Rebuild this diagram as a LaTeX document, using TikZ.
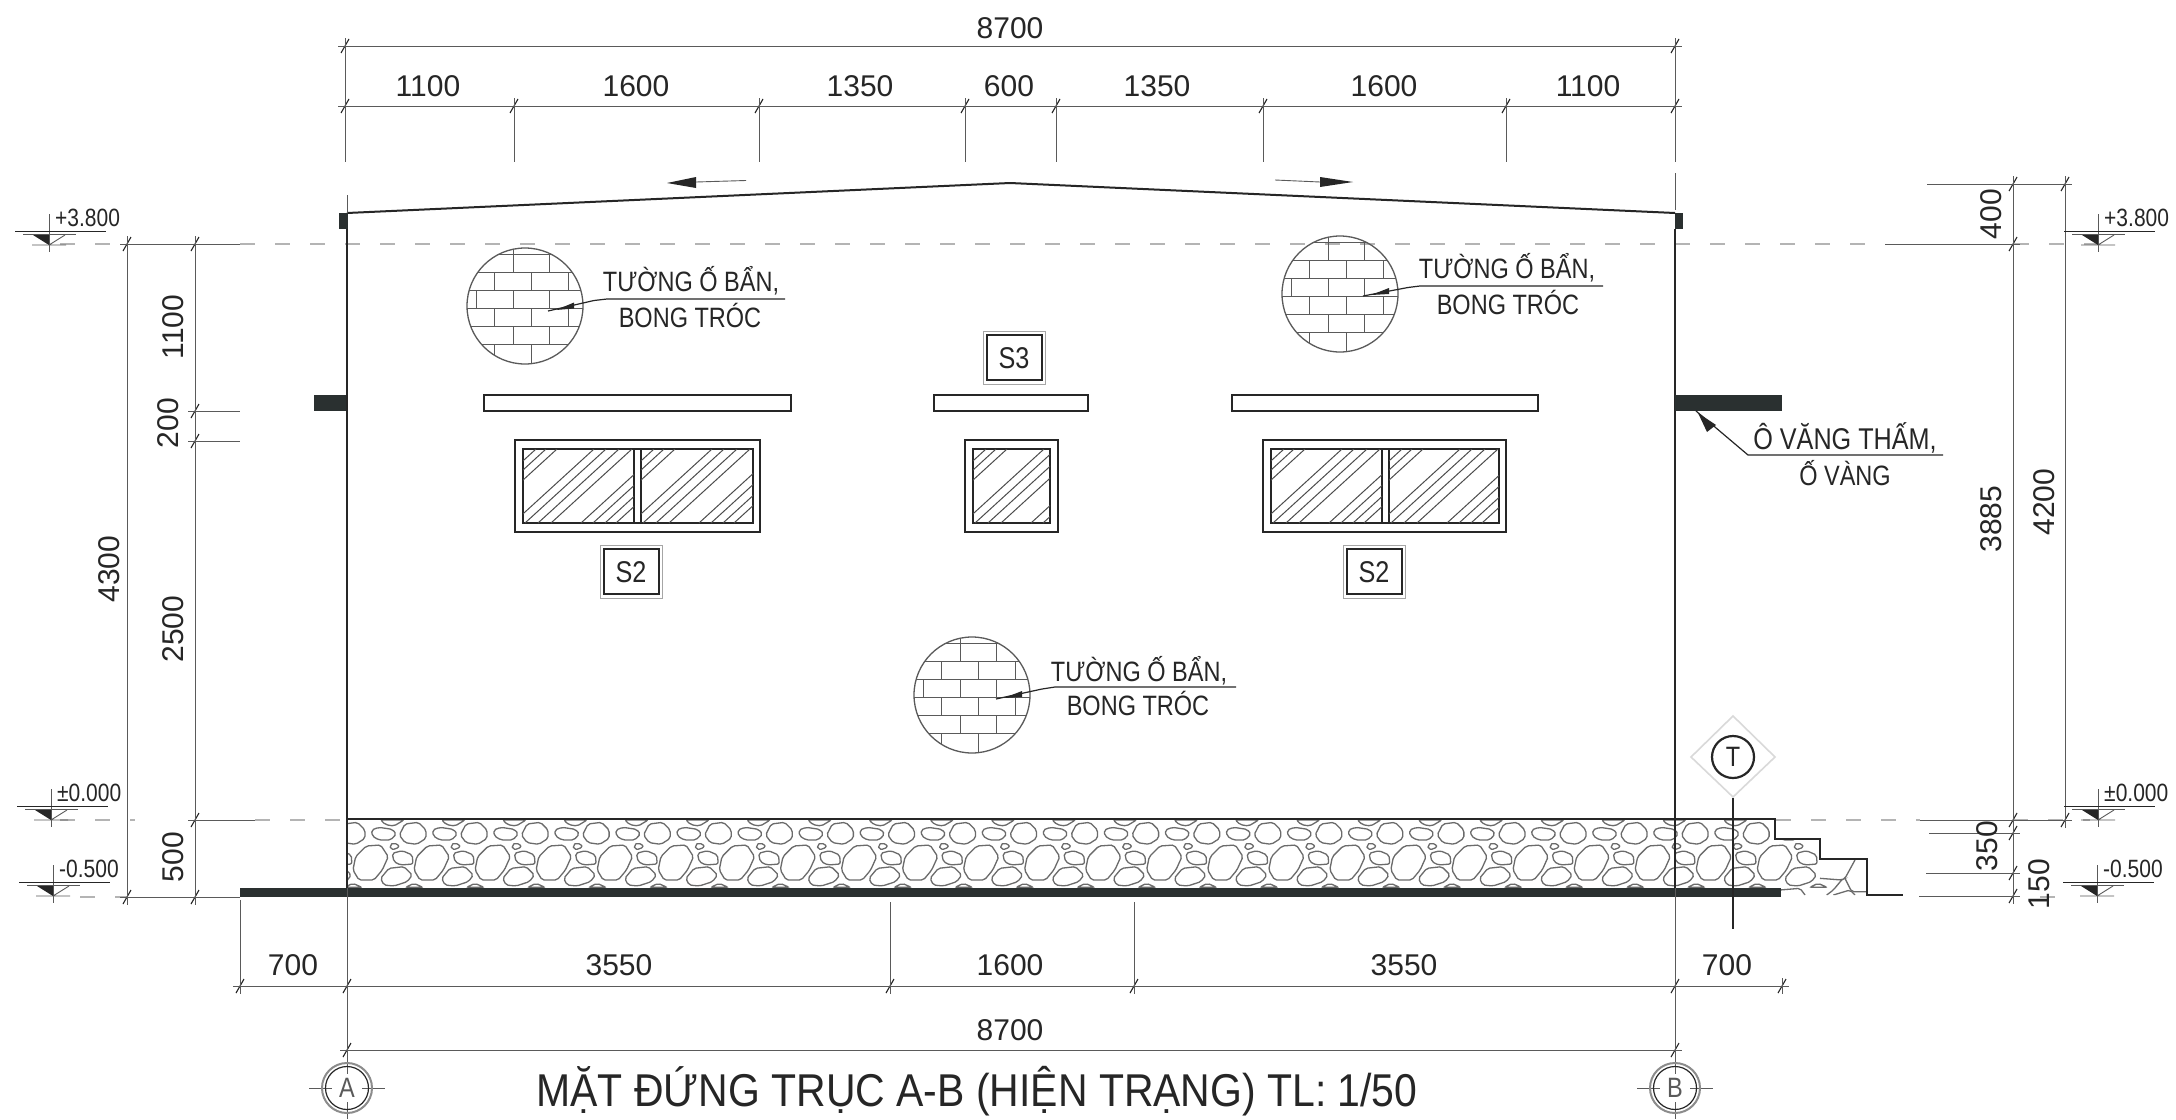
\documentclass[tikz,border=0pt]{standalone}
\usepackage{fontspec}
\setmainfont{Liberation Sans}
\newfontfamily\lblfont[FakeStretch=0.84]{Liberation Sans}
\newfontfamily\ttlfont[FakeStretch=0.89]{Liberation Sans}
\definecolor{ink}{HTML}{262626}
\definecolor{dimc}{HTML}{5A5A5A}
\definecolor{dashc}{HTML}{B4B4B4}
\definecolor{blk}{HTML}{2A3030}
\tikzset{
  dimtxt/.style={font=\fontsize{30}{30}\selectfont,text=ink,inner sep=0pt,anchor=center},
  dimtxtv/.style={dimtxt,rotate=90},
  lbl/.style={font=\lblfont\fontsize{28}{28}\selectfont,text=ink,inner sep=0pt,anchor=base},
  lvltxt/.style={font=\lblfont\fontsize{25}{25}\selectfont,text=ink,inner sep=0pt,anchor=base west},
  ttl/.style={font=\ttlfont\fontsize{46}{46}\selectfont,text=ink,inner sep=0pt,anchor=base},
  bub/.style={font=\lblfont\fontsize{28}{28}\selectfont,text=dimc,inner sep=0pt},
  stag/.style={font=\lblfont\fontsize{30}{30}\selectfont,text=ink,inner sep=0pt},
  dimln/.style={draw=dimc,line width=0.9pt},
  dashln/.style={draw=dashc,line width=1.1pt,dash pattern=on 15pt off 20pt},
  tickln/.style={draw=ink,line width=1.1pt},
  wallln/.style={draw=ink,line width=1.6pt},
  boxln/.style={draw=ink,line width=1.7pt},
  hatchln/.style={draw=black!70,line width=1pt},
  brickln/.style={draw=dimc,line width=0.9pt},
  stoneln/.style={draw=black!58,line width=1.3pt,rounded corners=2pt},
  leader/.style={draw=ink,line width=1.2pt}
}
\newcommand{\tk}[2]{\draw[tickln] (#1-4,#2+7) -- (#1+4,#2-7);\draw[dimln] (#1-7,#2) -- (#1+7,#2) (#1,#2-8) -- (#1,#2+8);}
\newcommand{\pane}[4]{\begin{scope}\clip (#1,#3) rectangle (#2,#4);
  \foreach \i in {-68,-58,-47,-10,2,15,28,58,70,82,93}{\draw[hatchln] (#1+\i,#4) -- (#1+\i+81,#3);}
  \end{scope}}
\newcommand{\brickc}[2]{\begin{scope}[shift={(#1,#2)}]
  \begin{scope}\clip (0,0) circle[radius=58];
   \foreach \h in {-52,-34,-16,2,20,38}{\draw[brickln] (-60,\h) -- (60,\h);}
   \foreach \v in {-12,24}{\draw[brickln] (\v,-58) -- (\v,-34) (\v,20) -- (\v,38);}
   \foreach \v in {-31,6,43}{\draw[brickln] (\v,-34) -- (\v,-16) (\v,2) -- (\v,20);}
   \foreach \v in {-49,-12,24}{\draw[brickln] (\v,-16) -- (\v,2);}
   \foreach \v in {-31,6}{\draw[brickln] (\v,38) -- (\v,58);}
  \end{scope}
  \draw[draw=dimc,line width=1.3pt] (0,0) circle[radius=58];
  \end{scope}}
\newcommand{\lvl}[3]{\draw[dimln] (#1,#2-31) -- (#1,#2+7);
  \draw[draw=ink,line width=1pt] (#1-34,#2-14) -- (#1+57,#2-14);
  \draw[dimln] (#1-26,#2-11) -- (#1+27,#2-11);
  \draw[dimln] (#1-17,#2) -- (#1+17,#2) (#1,#2) -- (#1+16,#2-10);
  \fill[ink] (#1-16,#2-10) -- (#1,#2) -- (#1,#2-10) -- cycle;
  \node[lvltxt] at (#1+6,#2-19) {#3};}
\newcommand{\stg}[3]{\draw[draw=black!35,line width=1pt] (#1-31,#2-27) rectangle (#1+31,#2+26);
  \draw[draw=ink,line width=2.1pt] (#1-27,#2-23) rectangle (#1+28,#2+22);
  \node[stag] at (#1,#2) {#3};}
\newcommand{\kite}[6]{\fill[ink] (#1,#2) -- (#3,#4) -- (#5,#6) -- cycle;}
\begin{document}
\begin{tikzpicture}[x=1pt,y=-1pt]
\useasboundingbox (0,0) rectangle (2176,1119);
\fill[white] (0,0) rectangle (2176,1119);

% ---- dashed level lines
\draw[dashln] (60,244) -- (125,244) (240,244) -- (1885,244) (2014,244) -- (2110,244);
\draw[dashln] (60,820) -- (135,820) (255,820) -- (347,820) (1776,820) -- (1920,820) (2013,820) -- (2090,820);
\draw[dashln] (80,897) -- (127,897) (2040,897) -- (2075,897);

% ---- stone footing
\begin{scope}
 \clip (347,819) -- (1775,819) -- (1775,839) -- (1820,839) -- (1820,859) -- (1867,859) -- (1867,895) -- (347,895) -- cycle;
 \foreach \k in {-2,...,22}{
  \begin{scope}[shift={(340+61.05*\k,810)},x=0.3333pt,y=-0.3333pt]
   \draw[stoneln] (195,42) -- (235,37) -- (258,60) -- (258,85) -- (230,103) -- (195,98) -- (178,75) -- cycle;
   \draw[stoneln] (278,60) -- (300,52) -- (340,58) -- (352,72) -- (335,90) -- (300,90) -- (280,78) -- cycle;
   \draw[stoneln] (230,140) -- (262,108) -- (305,105) -- (328,140) -- (310,180) -- (285,210) -- (240,210) -- (222,180) -- cycle;
   \draw[stoneln] (333,105) -- (345,98) -- (362,108) -- (350,118) -- (335,118) -- cycle;
   \draw[stoneln] (340,130) -- (370,122) -- (400,135) -- (402,162) -- (365,165) -- (345,155) -- cycle;
   \draw[stoneln] (305,205) -- (330,175) -- (375,170) -- (400,195) -- (385,215) -- (345,228) -- (315,225) -- cycle;
   \draw[stoneln] (305,30) -- (375,30) -- (345,48) -- (320,44) -- cycle;
   \draw[stoneln] (380,232) -- (405,220) -- (432,232) -- cycle;
  \end{scope}}
 \begin{scope}[shift={(1660,810)},x=0.3333pt,y=-0.3333pt]
   \draw[stoneln] (480,205) -- (545,210) -- (555,205) -- (585,150);
   \draw[stoneln] (555,205) -- (575,245) -- (620,245);
   \draw[stoneln] (545,210) -- (520,240) -- (500,255);
   \draw[stoneln] (360,240) -- (420,235) -- (435,255);
   \draw[stoneln] (520,255) -- (570,240) -- (585,255);
 \end{scope}
\end{scope}
\draw[wallln] (347,819) -- (1775,819) -- (1775,839) -- (1820,839) -- (1820,859) -- (1867,859) -- (1867,895) -- (1903,895);
\fill[blk] (240,888) rectangle (1781,897);

% ---- wall and roof
\draw[wallln] (347,229) -- (347,888);
\draw[wallln] (1675,229) -- (1675,888);
\draw[draw=ink,line width=2pt] (347,213) -- (1010,183) -- (1675,213);
\fill[blk] (339,213) rectangle (348,229);
\fill[blk] (1675,213) rectangle (1683,229);
\fill[blk] (314,395) rectangle (346,411);
\fill[blk] (1675,395) rectangle (1782,411);
\draw[dimln] (347,195) -- (347,213) (1675,173) -- (1675,210);
\draw[dimln] (347,888) -- (347,1062) (1675,888) -- (1675,1062);

% ---- slope arrows
\fill[ink] (667,183) -- (696,177) -- (696,188) -- cycle;
\draw[dimln] (696,182) -- (746,180.5);
\fill[ink] (1353,182) -- (1320,177) -- (1320,187) -- cycle;
\draw[dimln] (1320,182) -- (1275,180);

% ---- canopies
\draw[boxln] (484,395) rectangle (791,411);
\draw[boxln] (934,395) rectangle (1088,411);
\draw[boxln] (1232,395) rectangle (1538,411);

% ---- windows
\draw[boxln] (515,440) rectangle (760,532);
\draw[draw=ink,line width=2.1pt] (523,449) rectangle (753,523);
\draw[boxln] (634,449) -- (634,523) (641,449) -- (641,523);
\pane{523}{634}{449}{523}\pane{641}{753}{449}{523}
\draw[boxln] (965,440) rectangle (1058,532);
\draw[draw=ink,line width=2.1pt] (973,449) rectangle (1050,523);
\pane{973}{1050}{449}{523}
\draw[boxln] (1263,440) rectangle (1506,532);
\draw[draw=ink,line width=2.1pt] (1271,449) rectangle (1499,523);
\draw[boxln] (1382,449) -- (1382,523) (1389,449) -- (1389,523);
\pane{1271}{1382}{449}{523}\pane{1389}{1499}{449}{523}

% ---- tags
\stg{631}{572}{S2}
\stg{1374}{572}{S2}
\stg{1014}{358}{S3}

% ---- brick patches and leaders
\brickc{525}{306}
\brickc{1340}{294}
\brickc{972}{695}
\draw[leader] (548,311) -- (594,300.5) -- (607,299) -- (785,299);
\kite{556}{310}{574}{302.5}{574}{308.5}
\draw[leader] (1363,296) -- (1408,287.5) -- (1420,286) -- (1603,286);
\kite{1371}{295}{1389}{288}{1389}{294}
\draw[leader] (996,699) -- (1042,689) -- (1055,687) -- (1236,687);
\kite{1004}{698}{1022}{691}{1022}{697}
\draw[leader] (1696,411) -- (1748,455) -- (1943,455);
\kite{1698}{413}{1716}{425}{1707}{432}

\node[lbl] (t1a) at (691,291) {TƯỜNG Ố BẨN,};
\node[lbl] (t1b) at (690,327) {BONG TRÓC};
\node[lbl] (t2a) at (1507,278) {TƯỜNG Ố BẨN,};
\node[lbl] (t2b) at (1508,314) {BONG TRÓC};
\node[lbl] (t3a) at (1139,681) {TƯỜNG Ố BẨN,};
\node[lbl] (t3b) at (1138,715) {BONG TRÓC};
\node[lbl,font=\lblfont\fontsize{30}{30}\selectfont] (t4a) at (1845,449) {Ô VĂNG THẤM,};
\node[lbl] (t4b) at (1845,485) {Ố VÀNG};

% ---- top dimensions
\draw[dimln] (345,46) -- (1675,46) (345,106) -- (1675,106);
\foreach \x in {345,1675}{\draw[dimln] (\x,38) -- (\x,162);\tk{\x}{46}\tk{\x}{106}}
\foreach \x in {514,759,965,1056,1263,1506}{\draw[dimln] (\x,98) -- (\x,162);\tk{\x}{106}}
\node[dimtxt] (a0) at (1010,28) {8700};
\node[dimtxt] (a1) at (428,86) {1100};
\node[dimtxt] (a2) at (636,86) {1600};
\node[dimtxt] (a3) at (860,86) {1350};
\node[dimtxt] (a4) at (1009,86) {600};
\node[dimtxt] (a5) at (1157,86) {1350};
\node[dimtxt] (a6) at (1384,86) {1600};
\node[dimtxt] (a7) at (1588,86) {1100};

% ---- left dimensions
\draw[dimln] (127,244) -- (127,905) (195,244) -- (195,905);
\draw[dimln] (125,244) -- (240,244) (190,411) -- (240,411) (190,441) -- (240,441) (127,897) -- (240,897) (190,820) -- (255,820);
\foreach \y in {244,897}{\tk{127}{\y}}
\foreach \y in {244,411,441,820,897}{\tk{195}{\y}}
\node[dimtxtv] (l0) at (109,569) {4300};
\node[dimtxtv] (l1) at (173,327) {1100};
\node[dimtxtv] (l2) at (168,423) {200};
\node[dimtxtv] (l3) at (173,629) {2500};
\node[dimtxtv] (l4) at (173,857) {500};

% ---- right dimensions
\draw[dimln] (2013,176) -- (2013,902) (2065,176) -- (2065,826);
\draw[dimln] (1927,184) -- (2066,184) (1885,244) -- (2013,244) (1920,820) -- (2065,820) (1929,833) -- (2013,833) (1926,873) -- (2013,873) (1919,896) -- (2013,896);
\foreach \y in {184,244,820,833,873,896}{\tk{2013}{\y}}
\foreach \y in {184,820}{\tk{2065}{\y}}
\node[dimtxtv] (r0) at (1991,214) {400};
\node[dimtxtv] (r1) at (1991,519) {3885};
\node[dimtxtv] (r2) at (2044,502) {4200};
\node[dimtxtv] (r3) at (1987,846) {350};
\node[dimtxtv] (r4) at (2039,884) {150};

% ---- bottom dimensions
\draw[dimln] (240,900) -- (240,992);
\draw[dimln] (890,902) -- (890,992) (1134,902) -- (1134,992);
\draw[dimln] (240,986) -- (1782,986) (347,1050) -- (1675,1050);
\foreach \x in {240,347,890,1134,1675,1782}{\tk{\x}{986}}
\foreach \x in {347,1675}{\tk{\x}{1050}}
\node[dimtxt] (b1) at (293,965) {700};
\node[dimtxt] (b2) at (619,965) {3550};
\node[dimtxt] (b3) at (1010,965) {1600};
\node[dimtxt] (b4) at (1404,965) {3550};
\node[dimtxt] (b5) at (1727,965) {700};
\node[dimtxt] (b6) at (1010,1030) {8700};

% ---- level marks
\lvl{49}{245}{+3.800}
\lvl{2098}{245}{+3.800}
\lvl{51}{820}{±0.000}
\lvl{2098}{820}{±0.000}
\lvl{53}{896}{-0.500}
\lvl{2097}{896}{-0.500}

% ---- section marker T
\draw[draw=black!15,line width=1.6pt] (1733,716) -- (1775,757) -- (1733,797) -- (1691,757) -- cycle;
\draw[draw=ink,line width=2.2pt] (1733,757) circle[radius=21];
\node[bub,text=ink] (tm) at (1733,757) {T};
\draw[draw=ink,line width=2.6pt] (1733,798) -- (1733,929);

% ---- grid bubbles
\foreach \cx/\nm/\lt in {347/ba/A,1675/bb/B}{
 \draw[dimln] (\cx-38,1088) -- (\cx-15,1088) (\cx+15,1088) -- (\cx+38,1088) (\cx,1062) -- (\cx,1074) (\cx,1102) -- (\cx,1119);
 \draw[draw=black!45,line width=2pt] (\cx,1088) circle[radius=25];
 \draw[draw=ink,line width=1.2pt] (\cx,1088) circle[radius=21.5];
 \node[bub] (\nm) at (\cx,1088) {\lt};
}

% ---- title
\node[ttl] (title) at (977,1106) {MẶT ĐỨNG TRỤC A-B (HIỆN TRẠNG) TL: 1/50};
\end{tikzpicture}
\end{document}
